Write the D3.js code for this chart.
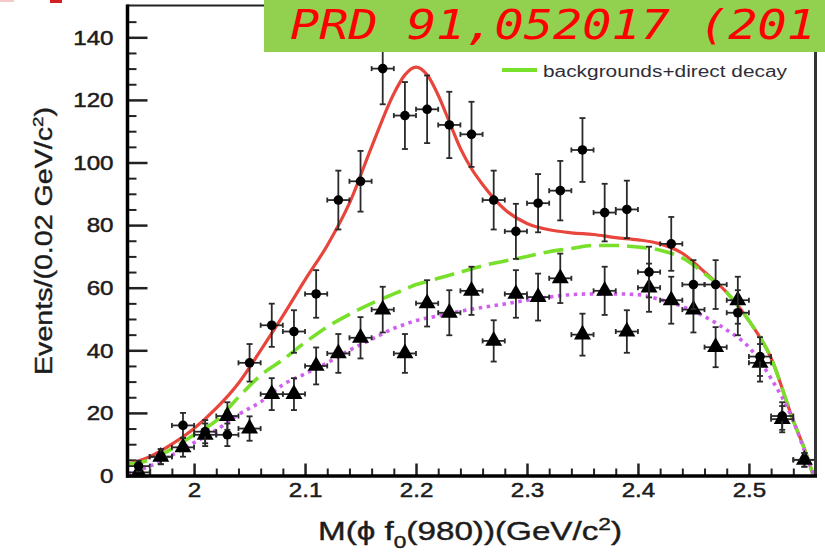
<!DOCTYPE html>
<html><head><meta charset="utf-8">
<script src="https://cdn.jsdelivr.net/npm/d3@7"></script>
<style>html,body{margin:0;padding:0;background:#fff;overflow:hidden}</style>
</head><body>
<svg id="c" width="825" height="556"></svg>
<script>
// ---------- data ----------
const binCenters = [1.95,1.97,1.99,2.01,2.03,2.05,2.07,2.09,2.11,2.13,2.15,2.17,2.19,2.21,2.23,2.25,2.27,2.29,2.31,2.33,2.35,2.37,2.39,2.41,2.43,2.45,2.47,2.49,2.51,2.53,2.55];
const circleValues = [3,6,16,14,13,36,48,46,58,88,94,130,115,117,112,109,88,78,87,91,104,84,85,65,74,61,61,52,38,19,5];
const circleErrors = [1.7,2.4,4,3.7,3.6,6,6.9,6.8,7.6,9.4,9.7,11.4,10.7,10.8,10.6,10.4,9.4,8.8,9.3,9.5,10.2,9.2,9.2,8.1,8.6,7.8,7.8,7.2,6.2,4.4,2.2];
const triangleValues = [1,6,9,13,19,15,26,26,35,39,44,53,39,55,52,59,43,58,57,63,45,59,46,60,56,53,41,56,36,18,5];
const triangleErrors = [1,2.4,3,3.6,4.4,3.9,5.1,5.1,5.9,6.2,6.6,7.3,6.2,7.4,7.2,7.7,6.6,7.6,7.5,7.9,6.7,7.7,6.8,7.7,7.5,7.3,6.4,7.5,6,4.2,2.2];
const binHalfWidth = 0.01;

const curveX = [1.94,1.96,1.98,2.00,2.02,2.04,2.06,2.08,2.10,2.12,2.14,2.16,2.18,2.19,2.20,2.21,2.22,2.23,2.24,2.25,2.26,2.28,2.30,2.32,2.34,2.36,2.38,2.40,2.42,2.44,2.46,2.48,2.50,2.52,2.54,2.55,2.558];
const totalFit = [3.5,6,10,15,21.5,29.5,40,51,62.5,73.5,87,105,122,128,130.5,128,121.5,113,104.5,98,93,85,80.5,78.5,77.5,77,76,75.3,74,71,65,58.5,49.5,37.5,17.5,8.5,0];
const bkgDirect = [3.5,5,8.5,13,17.5,25,32,37,42.5,47.5,51.5,55,58,59.5,61,62,63,64,65,66,67,68.5,70,71.5,72.5,73.5,73.5,73,72,69.5,64.5,58.5,49.5,37.5,17.5,8.5,0];
const bkgOnly = [0.5,3,6.5,10.5,14.5,19.5,23.5,29,32.5,36,40,43.5,47,48.3,49.5,50.3,51,51.8,52.5,53.1,53.7,54.8,56,57,57.8,58,58,57.8,56.2,54,50.8,46.5,41,31,17.5,8,0.5];

const yTickValues = [0,20,40,60,80,100,120,140];
const yTickLabels = ["0","20","40","60","80","100","120","140"];
const xTickValues = [2.0,2.1,2.2,2.3,2.4,2.5];
const xTickLabels = ["2","2.1","2.2","2.3","2.4","2.5"];
const yMinorValues = [5,10,15,25,30,35,45,50,55,65,70,75,85,90,95,105,110,115,125,130,135,145];
const xMinorValues = [1.94,1.96,1.98,2.02,2.04,2.06,2.08,2.12,2.14,2.16,2.18,2.22,2.24,2.26,2.28,2.32,2.34,2.36,2.38,2.42,2.44,2.46,2.48,2.52,2.54];

const legendLabel = "backgrounds+direct decay";
const refLabel = "PRD 91,052017 (201";

// ---------- drawing ----------
const svg = d3.select("#c");
const x = d3.scaleLinear().domain([1.94, 2.56]).range([127.5, 815.5]);
const y = d3.scaleLinear().domain([0, 150]).range([475.5, 6]);
const sans = "Liberation Sans, Arial, sans-serif";

// small cut-off mark at top-left
svg.append("rect").attr("x",0).attr("y",0).attr("width",14).attr("height",2).attr("fill","#f3c9c9");
svg.append("rect").attr("x",50).attr("y",0).attr("width",12).attr("height",3).attr("fill","#d42020");

// minor ticks
const gyMin = svg.append("g").attr("transform","translate(127.5,0)")
  .call(d3.axisLeft(y).tickValues(yMinorValues).tickSize(-9).tickSizeOuter(0).tickFormat(""));
const gxMin = svg.append("g").attr("transform","translate(0,475.5)")
  .call(d3.axisBottom(x).tickValues(xMinorValues).tickSize(-7).tickSizeOuter(0).tickFormat(""));
[gyMin,gxMin].forEach(g=>{g.select(".domain").remove(); g.selectAll("line").attr("stroke","#222").attr("stroke-width",2);});

// major ticks + labels
const gy = svg.append("g").attr("transform","translate(127.5,0)")
  .call(d3.axisLeft(y).tickValues(yTickValues).tickSize(-20).tickSizeOuter(0).tickPadding(14)
    .tickFormat((d,i)=>yTickLabels[i]));
const gx = svg.append("g").attr("transform","translate(0,475.5)")
  .call(d3.axisBottom(x).tickValues(xTickValues).tickSize(-12).tickSizeOuter(0).tickPadding(7)
    .tickFormat((d,i)=>xTickLabels[i]));
[gy,gx].forEach(g=>{
  g.select(".domain").remove();
  g.selectAll("line").attr("stroke","#222").attr("stroke-width",2.5);
  g.selectAll("text").attr("font-family",sans).attr("font-size",21).attr("fill","#1c1c1c")
    .attr("stroke","#1c1c1c").attr("stroke-width",0.5)
    .each(function(){ const w=this.getComputedTextLength(); d3.select(this).attr("textLength", w*1.15).attr("lengthAdjust","spacingAndGlyphs"); });
});

// curves
const line = d3.line().x((d,i)=>x(curveX[i])).y(d=>y(d)).curve(d3.curveMonotoneX);
svg.append("path").attr("d", line(totalFit)).attr("fill","none").attr("stroke","#e8453c").attr("stroke-width",3.2);
svg.append("path").attr("d", line(bkgDirect)).attr("fill","none").attr("stroke","#78e02a").attr("stroke-width",3.6).attr("stroke-dasharray","20 8");
svg.append("path").attr("d", line(bkgOnly)).attr("fill","none").attr("stroke","#d060f0").attr("stroke-width",3.6).attr("stroke-dasharray","3.5 4.5");

// data points with error bars
function drawSeries(vals, errs, marker){
  const g = svg.append("g");
  vals.forEach((v,i)=>{
    const cx = x(binCenters[i]), cy = y(v);
    const top = y(v+errs[i]), bot = y(Math.max(0,v-errs[i]));
    const eb = g.append("g").attr("stroke","#2a2a2a").attr("stroke-width",1.8);
    eb.append("line").attr("x1",cx).attr("x2",cx).attr("y1",top).attr("y2",bot);
    eb.append("line").attr("x1",cx-3).attr("x2",cx+3).attr("y1",top).attr("y2",top);
    eb.append("line").attr("x1",cx-3).attr("x2",cx+3).attr("y1",bot).attr("y2",bot);
    const xl = x(binCenters[i]-binHalfWidth), xr = x(binCenters[i]+binHalfWidth);
    eb.append("line").attr("x1",xl).attr("x2",xr).attr("y1",cy).attr("y2",cy);
    eb.append("line").attr("x1",xl).attr("x2",xl).attr("y1",cy-2.5).attr("y2",cy+2.5);
    eb.append("line").attr("x1",xr).attr("x2",xr).attr("y1",cy-2.5).attr("y2",cy+2.5);
    if(marker==="circle"){
      g.append("circle").attr("cx",cx).attr("cy",cy).attr("r",4.8).attr("fill","#000");
    } else {
      g.append("path").attr("d", d3.symbol(d3.symbolTriangle, 125)()).attr("transform",`translate(${cx},${cy})`).attr("fill","#000");
    }
  });
}
drawSeries(triangleValues, triangleErrors, "triangle");
drawSeries(circleValues, circleErrors, "circle");

// frame
svg.append("line").attr("x1",127).attr("x2",816).attr("y1",5.5).attr("y2",5.5).attr("stroke","#222").attr("stroke-width",2);
svg.append("line").attr("x1",815.5).attr("x2",815.5).attr("y1",5).attr("y2",477).attr("stroke","#333").attr("stroke-width",3);
svg.append("line").attr("x1",127.5).attr("x2",127.5).attr("y1",4.5).attr("y2",477.5).attr("stroke","#000").attr("stroke-width",3.5);
svg.append("line").attr("x1",126).attr("x2",817).attr("y1",476).attr("y2",476).attr("stroke","#000").attr("stroke-width",3.5);

// legend
svg.append("line").attr("x1",502).attr("x2",537).attr("y1",70).attr("y2",70).attr("stroke","#78e02a").attr("stroke-width",4);
svg.append("text").attr("x",543).attr("y",76.5).attr("font-family",sans).attr("font-size",16)
  .attr("fill","#2e2e38").attr("textLength",244).attr("lengthAdjust","spacingAndGlyphs").text(legendLabel);

// axis titles
const yt = svg.append("text").attr("transform","translate(52,375) rotate(-90)")
  .attr("font-family",sans).attr("font-size",23).attr("fill","#1c1c1c").attr("stroke","#1c1c1c").attr("stroke-width",0.4)
  .attr("textLength",268).attr("lengthAdjust","spacingAndGlyphs");
yt.append("tspan").text("Events/(0.02 GeV/c");
yt.append("tspan").attr("font-size",15).attr("dy",-9).text("2");
yt.append("tspan").attr("dy",9).text(")");

const xt = svg.append("text").attr("x",318).attr("y",540)
  .attr("font-family",sans).attr("font-size",25).attr("fill","#1c1c1c").attr("stroke","#1c1c1c").attr("stroke-width",0.4)
  .attr("textLength",304).attr("lengthAdjust","spacingAndGlyphs");
xt.append("tspan").text("M(\u03D5 f");
xt.append("tspan").attr("font-size",17).attr("dy",8).text("0");
xt.append("tspan").attr("dy",-8).text("(980))(GeV/c");
xt.append("tspan").attr("font-size",17).attr("dy",-10).text("2");
xt.append("tspan").attr("dy",10).text(")");

// reference banner
svg.append("rect").attr("x",264).attr("y",0).attr("width",561).attr("height",52).attr("fill","#92d050");
svg.append("text").attr("x",290).attr("y",38.5).attr("font-family","DejaVu Sans Mono, monospace").attr("font-style","italic")
  .attr("font-size",40).attr("fill","#ff0000").attr("textLength",526).attr("lengthAdjust","spacingAndGlyphs").text(refLabel);
</script>
</body></html>
